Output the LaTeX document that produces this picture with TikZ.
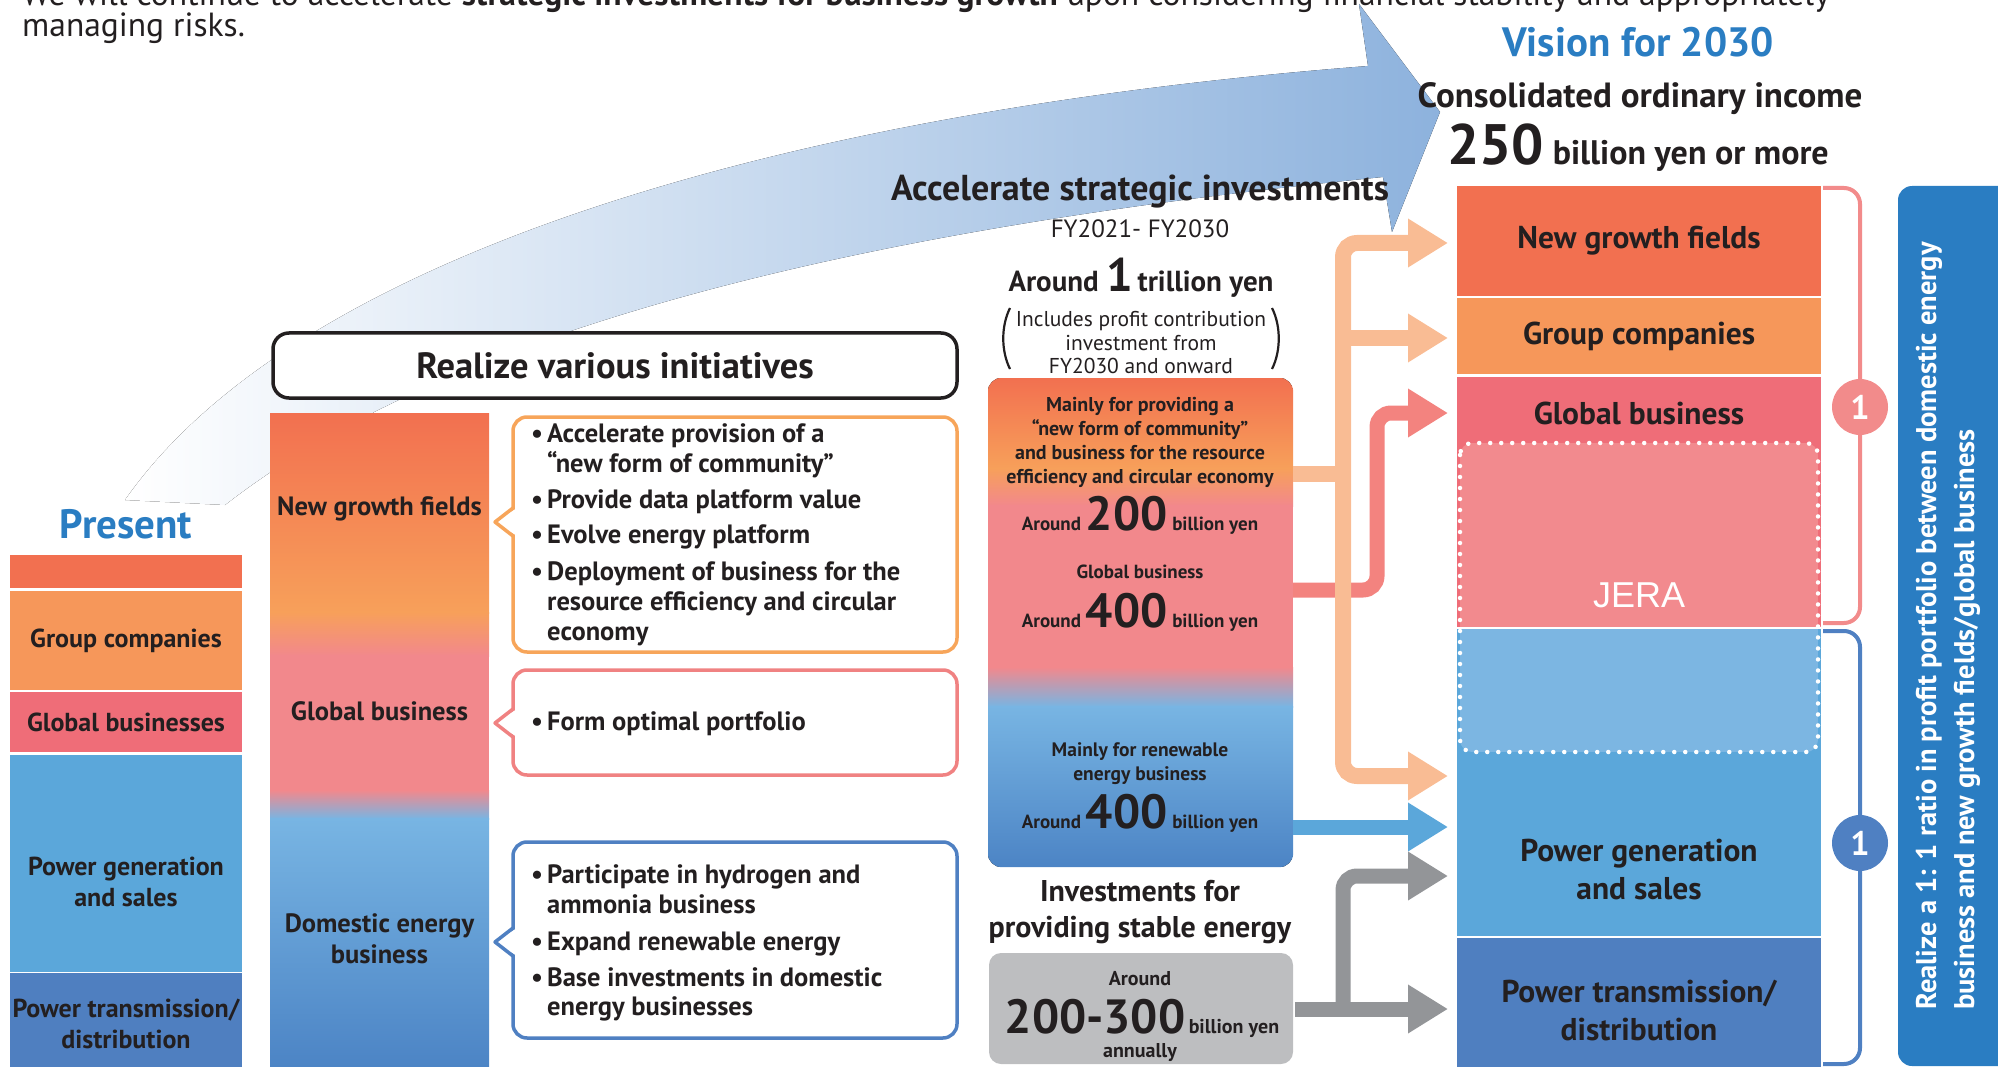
\documentclass[tikz,border=0pt]{standalone}
\usepackage{fontspec}
\setmainfont{PT Sans}
\newfontfamily\jerafont{Liberation Sans}
\usetikzlibrary{arrows.meta}
\definecolor{InkDark}{RGB}{35,31,32}
\definecolor{HeadBlue}{RGB}{42,125,194}
\definecolor{SweepBlue}{RGB}{141,178,221}
\definecolor{FieldRed}{RGB}{242,112,80}
\definecolor{GroupOrange}{RGB}{246,151,90}
\definecolor{GlobalPink}{RGB}{239,109,120}
\definecolor{JeraPink}{RGB}{242,138,142}
\definecolor{JeraBlue}{RGB}{124,182,226}
\definecolor{GenBlue}{RGB}{91,167,218}
\definecolor{GridBlue}{RGB}{79,127,192}
\definecolor{MixOrange}{RGB}{247,160,90}
\definecolor{MixPink}{RGB}{242,136,140}
\definecolor{MixSky}{RGB}{120,181,227}
\definecolor{MixDeep}{RGB}{76,132,197}
\definecolor{PeachLine}{RGB}{249,188,148}
\definecolor{SalmonLine}{RGB}{243,131,127}
\definecolor{StoneLine}{RGB}{147,149,152}
\definecolor{StoneBox}{RGB}{189,190,192}
\definecolor{FrameOrange}{RGB}{247,165,90}
\definecolor{FramePink}{RGB}{240,130,130}
\definecolor{FrameBlue}{RGB}{79,128,194}
\definecolor{BracePink}{RGB}{242,139,139}
\definecolor{BraceBlue}{RGB}{79,128,194}
\newcommand{\bigfig}[2]{{\normalfont\bfseries\fontsize{#1}{#1}\selectfont #2}}
\newcommand{\bubbletail}[2]{%
  \fill[white] (517,#2-14) -- (495,#2) -- (517,#2+14) -- cycle;
  \draw[#1,line width=3.5pt,line join=round] (513,#2-14) -- (495,#2) -- (513,#2+14);}
\tikzset{
  tx/.style={text=InkDark,inner sep=0pt},
  now/.style={inner sep=0pt,minimum width=232pt,text=InkDark,align=center,
    font=\bfseries\fontsize{26}{31}\selectfont},
  plate/.style={inner sep=0pt,minimum width=364pt,text=InkDark,align=center,
    font=\bfseries\fontsize{31.5}{38}\selectfont},
  cat/.style={inner sep=0pt,text=InkDark,align=center,
    font=\bfseries\fontsize{26.5}{31}\selectfont},
  itemtxt/.style={text=InkDark,inner sep=0pt,anchor=base west,
    font=\bfseries\fontsize{26.5}{30}\selectfont},
  boxtxt/.style={text=InkDark,inner sep=0pt,anchor=base,
    font=\bfseries\fontsize{19}{24}\selectfont},
  bubble/.style={draw,line width=3.5pt,fill=white,rounded corners=14pt,
    minimum width=444pt,inner sep=0pt},
  flow/.style={line width=15pt,-{Triangle[length=40pt,width=46pt]}},
  twoway/.style={line width=16pt,{Triangle[length=40pt,width=46pt]}-{Triangle[length=40pt,width=46pt]}},
  bracket/.style={line width=4pt,rounded corners=16pt},
  ratio/.style={circle,minimum size=56pt,inner sep=0pt,text=white,
    font=\bfseries\fontsize{34}{34}\selectfont},
}
\newcommand{\bul}{\llap{\textbullet\hspace{4pt}}}
\begin{document}
\begin{tikzpicture}[x=1pt,y=-1pt]
\useasboundingbox (0,0) rectangle (1998,1067);

% sweeping arrow behind everything
\fill[left color=white,right color=SweepBlue]
  (125,500) .. controls (300,250) and (800,110) .. (1368,66) -- (1359,4)
  -- (1440,112) -- (1392,232) -- (1383,177)
  .. controls (850,230) and (450,330) .. (225,505) -- cycle;

% lead text
\node[tx,anchor=base west,font=\fontsize{33.5}{31}\selectfont] (lead1) at (22,6)
  {We will continue to accelerate \textbf{strategic investments for business growth} upon considering financial stability and appropriately};
\node[tx,anchor=base west,font=\fontsize{33.5}{31}\selectfont] (lead2) at (22,37) {managing risks.};

% present portfolio
\node[tx,anchor=base,text=HeadBlue,font=\bfseries\fontsize{41}{42}\selectfont] (present) at (126,538) {Present};
\node[now,fill=FieldRed,minimum height=33pt] (pNew) at (126,571.5) {};
\node[now,fill=GroupOrange,minimum height=99pt] (pGroup) at (126,640.5) {Group companies};
\node[now,fill=GlobalPink,minimum height=60pt] (pGlobal) at (126,722) {Global businesses};
\node[now,fill=GenBlue,minimum height=217pt] (pPower) at (126,863.5) {};
\node[now,fill=GridBlue,minimum height=102pt] (pGrid) at (126,1024) {Power transmission/\\distribution};
\node[now] (pPowerTxt) at (126,882) {Power generation\\and sales};

% initiatives
\node[draw=InkDark,line width=3.5pt,fill=white,rounded corners=16pt,minimum width=684pt,
  minimum height=65pt,text=InkDark,font=\bfseries\fontsize{36.5}{38}\selectfont]
  (realize) at (615,365.5) {Realize various initiatives};
\fill[top color=FieldRed,bottom color=MixOrange] (270,413) rectangle (489,613);
\fill[top color=MixOrange,bottom color=MixPink] (270,612) rectangle (489,656);
\fill[MixPink] (270,655) rectangle (489,791);
\fill[top color=MixPink,bottom color=MixSky] (270,790) rectangle (489,819);
\fill[top color=MixSky,bottom color=MixDeep] (270,818) rectangle (489,1067);
\node[cat,anchor=base] (cNew) at (379.5,515) {New growth fields};
\node[cat,anchor=base] (cGlobal) at (379.5,720) {Global business};
\node[cat] (cHome) at (379.5,939) {Domestic energy\\business};

\node[bubble,draw=FrameOrange,minimum height=235pt] (bNew) at (735,534.5) {};
\bubbletail{FrameOrange}{522}
\node[bubble,draw=FramePink,minimum height=105pt] (bGlobal) at (735,722.5) {};
\bubbletail{FramePink}{723}
\node[bubble,draw=FrameBlue,minimum height=196pt] (bHome) at (735,940) {};
\bubbletail{FrameBlue}{942}
\foreach \y/\t in {442/{\bul Accelerate provision of a},
                   472/{“new form of community”},
                   508/{\bul Provide data platform value},
                   543/{\bul Evolve energy platform},
                   580/{\bul Deployment of business for the},
                   610/{resource efficiency and circular},
                   640/{economy},
                   730/{\bul Form optimal portfolio},
                   883/{\bul Participate in hydrogen and},
                   913/{ammonia business},
                   950/{\bul Expand renewable energy},
                   986/{\bul Base investments in domestic},
                   1015/{energy businesses}}
  \node[itemtxt] (item\y) at (547,\y) {\t};

% strategic investments
\node[tx,anchor=base,font=\bfseries\fontsize{36}{38}\selectfont] (accel) at (1140,201) {Accelerate strategic investments};
\node[tx,anchor=base,font=\fontsize{25}{26}\selectfont] (span) at (1140,238) {FY2021- FY2030};
\node[tx,anchor=base,font=\bfseries\fontsize{29}{30}\selectfont] (total) at (1141,292) {Around \bigfig{47}{1}\,trillion yen};
\node[tx,align=center,font=\fontsize{21.5}{23.5}\selectfont] (incl) at (1141,343) {Includes profit contribution\\investment from\\FY2030 and onward};
\draw[InkDark,line width=2.2pt] (1010,308) .. controls (1001,326) and (1001,351) .. (1010,369);
\draw[InkDark,line width=2.2pt] (1272,308) .. controls (1281,326) and (1281,351) .. (1272,369);

\node[minimum width=305pt,minimum height=489pt,inner sep=0pt] (inv) at (1140.5,622.5) {};
\begin{scope}
  \clip[rounded corners=14pt] (inv.north west) rectangle (inv.south east);
  \fill[top color=FieldRed,bottom color=MixOrange] (988,378) rectangle (1293,469);
  \fill[top color=MixOrange,bottom color=MixPink] (988,468) rectangle (1293,506);
  \fill[MixPink] (988,505) rectangle (1293,668);
  \fill[top color=MixPink,bottom color=MixSky] (988,667) rectangle (1293,707);
  \fill[top color=MixSky,bottom color=MixDeep] (988,706) rectangle (1293,867);
\end{scope}
\node[tx,align=center,font=\bfseries\fontsize{20}{24}\selectfont] (invNew) at (1140,442)
  {Mainly for providing a\\“new form of community”\\and business for the resource\\efficiency and circular economy};
\node[boxtxt] (invNewSum) at (1140,530) {Around \bigfig{48}{200} billion yen};
\node[boxtxt] (invGlobal) at (1140,578) {Global business};
\node[boxtxt] (invGlobalSum) at (1140,627) {Around \bigfig{48}{400} billion yen};
\node[tx,align=center,font=\bfseries\fontsize{19.5}{24}\selectfont] (invGreen) at (1140,764)
  {Mainly for renewable\\energy business};
\node[boxtxt] (invGreenSum) at (1140,828) {Around \bigfig{48}{400} billion yen};

\node[tx,align=center,font=\bfseries\fontsize{30}{36}\selectfont] (steady) at (1140,912) {Investments for\\providing stable energy};
\node[fill=StoneBox,rounded corners=12pt,minimum width=304pt,minimum height=111pt,inner sep=0pt] (stable) at (1141,1008.5) {};
\node[boxtxt,font=\bfseries\fontsize{20}{24}\selectfont] (stableA) at (1140,985) {Around};
\node[boxtxt,font=\bfseries\fontsize{20}{24}\selectfont] (stableB) at (1142,1033) {\bigfig{48}{200-300}\,billion yen};
\node[boxtxt,font=\bfseries\fontsize{20}{24}\selectfont] (stableC) at (1140,1057) {annually};

% vision 2030
\node[tx,anchor=base,text=HeadBlue,font=\bfseries\fontsize{41}{42}\selectfont] (vision) at (1638,57) {Vision for 2030};
\node[tx,anchor=base,font=\bfseries\fontsize{35}{36}\selectfont] (income) at (1640,108) {Consolidated ordinary income};
\node[tx,anchor=base,font=\bfseries\fontsize{34}{40}\selectfont] (target) at (1638,165) {\bigfig{57}{250} billion yen or more};

\node[plate,fill=FieldRed,minimum height=110pt] (vNew) at (1639,241) {New growth fields};
\node[plate,fill=GroupOrange,minimum height=76pt] (vGroup) at (1639,336) {Group companies};
\node[plate,fill=GlobalPink,minimum height=72pt] (vGlobal) at (1639,413) {Global business};
\fill[GlobalPink] (1457,448) rectangle (1821,627);
\node[plate,fill=GenBlue,minimum height=307pt] (vPower) at (1639,782.5) {};
\node[plate,fill=GridBlue,minimum height=129pt] (vGrid) at (1639,1002.5) {};
\begin{scope}
  \clip[rounded corners=12pt] (1460,443) rectangle (1818,752);
  \fill[JeraPink] (1460,443) rectangle (1818,627);
  \fill[JeraBlue] (1460,629) rectangle (1818,752);
\end{scope}
\draw[white,line width=4.5pt,dash pattern=on 0pt off 11pt,line cap=round,rounded corners=12pt]
  (1460,443) rectangle (1818,752);
\node[tx,anchor=base,text=white,font=\jerafont\fontsize{36}{36}\selectfont] (jera) at (1639,607) {JERA};
\node[plate] (vPowerTxt) at (1639,870) {Power generation\\and sales};
\node[plate] (vGridTxt) at (1639,1010) {Power transmission/\\distribution};

\draw[bracket,BracePink] (1823,188) -- (1860,188) -- (1860,623) -- (1823,623);
\node[ratio,fill=BracePink] (oneTop) at (1860,407) {1};
\draw[bracket,BraceBlue] (1823,631) -- (1860,631) -- (1860,1064) -- (1823,1064);
\node[ratio,fill=BraceBlue] (oneLow) at (1860,843) {1};

\fill[HeadBlue,rounded corners=14pt] (1898,186) rectangle (2012,1066);
\node[tx,text=white,rotate=90,anchor=west,align=left,font=\bfseries\fontsize{28.5}{38}\selectfont]
  (aim) at (1948,1010) {Realize a 1: 1 ratio in profit portfolio between domestic energy\\business and new growth fields/global business};

% funding flows
\coordinate (jP) at (1343,0);
\coordinate (jS) at (1377,0);
\coordinate (tNew) at (1448,243);
\coordinate (tGroup) at (1448,338);
\coordinate (tGlobal) at (1448,413);
\coordinate (tPowA) at (1448,776);
\coordinate (tPowB) at (1448,827);
\coordinate (tPowC) at (1448,876);
\coordinate (tGrid) at (1448,1009);

\draw[flow,SalmonLine,rounded corners=14pt] (inv.east |- 0,590) -| (jS |- tGlobal) -- (tGlobal);
\draw[line width=16pt,PeachLine] (inv.east |- 0,474) -- (jP |- 0,474);
\draw[twoway,PeachLine,rounded corners=14pt] (tNew) -- (tNew -| jP) -- (tPowA -| jP) -- (tPowA);
\draw[flow,line width=16pt,PeachLine] (tGroup -| jP) -- (tGroup);
\draw[flow,GenBlue] (inv.east |- tPowB) -- (tPowB);
\draw[flow,StoneLine,shorten <=2pt] (stable.east |- tGrid) -- (tGrid);
\draw[flow,StoneLine,rounded corners=14pt] (tGrid -| jP) -- (tPowC -| jP) -- (tPowC);
\end{tikzpicture}
\end{document}
